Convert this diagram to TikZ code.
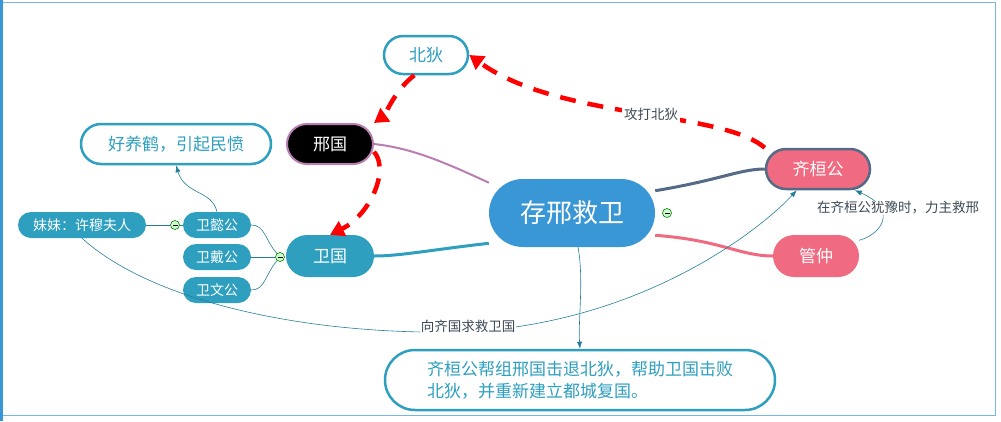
\documentclass[tikz,border=0pt]{standalone}
\usepackage{fontspec}
\setmainfont{Noto Sans CJK SC}
\usetikzlibrary{arrows.meta,positioning}
\definecolor{teal1}{HTML}{2E9FBF}
\definecolor{blue1}{HTML}{3A97D6}
\definecolor{pink1}{HTML}{F06A82}
\definecolor{slate1}{HTML}{556A86}
\definecolor{mauve1}{HTML}{B97FB2}
\definecolor{txt1}{HTML}{3D4A55}
\tikzset{
  topic/.style={rounded corners=13pt,minimum height=26pt,align=center,inner sep=0pt},
  leaf/.style={topic,fill=teal1,text=white,minimum width=68pt,minimum height=26pt,rounded corners=13pt,font=\fontsize{14}{14}\selectfont},
  note/.style={topic,draw=teal1,line width=2.5pt,fill=white,text=teal1,font=\fontsize{17}{17}\selectfont},
  link/.style={teal1!80!black,line width=0.6pt},
  redarrow/.style={red,line width=4.5pt,dash pattern=on 16pt off 12pt,-{Triangle[length=14pt,width=16pt]}},
  lbl/.style={text=txt1,font=\fontsize{13.5}{13.5}\selectfont},
  fold/.style={circle,draw=green!50!black,fill=green!20,inner sep=0pt,minimum size=9pt,line width=0.6pt}
}
\begin{document}
\begin{tikzpicture}[x=1pt,y=-1pt]
  \useasboundingbox (0,0) rectangle (1001,421);
  \draw[blue1!70,line width=1pt] (2,2) rectangle (995,415);
  \fill[blue1] (0,0) rectangle (3,421);
  % main topic and branches
  \node[topic,fill=blue1,text=white,minimum width=166pt,minimum height=68pt,rounded corners=34pt,font=\fontsize{26}{26}\selectfont] (center) at (572,213) {存邢救卫};
  \node[topic,fill=black,draw=mauve1,line width=2pt,text=white,minimum width=86pt,minimum height=40pt,rounded corners=20pt,font=\fontsize{17}{17}\selectfont] (xing) at (330,144) {邢国};
  \node[note,minimum width=84pt,minimum height=38pt,rounded corners=19pt] (beidi) at (426,55) {北狄};
  \node[note,minimum width=190pt,minimum height=40pt,rounded corners=20pt] (crane) at (176,144) {好养鹤，引起民愤};
  \node[topic,fill=pink1,draw=slate1,line width=2.5pt,text=white,minimum width=104pt,minimum height=40pt,rounded corners=20pt,font=\fontsize{17}{17}\selectfont] (qi) at (818,169) {齐桓公};
  \node[topic,fill=pink1,text=white,minimum width=86pt,minimum height=42pt,rounded corners=21pt,font=\fontsize{17}{17}\selectfont] (guan) at (816,256) {管仲};
  \node[topic,fill=teal1,text=white,minimum width=88pt,minimum height=42pt,rounded corners=21pt,font=\fontsize{17}{17}\selectfont] (wei) at (330,256) {卫国};
  \node[leaf] (yi) at (217,225) {卫懿公};
  \node[leaf] (dai) at (217,257) {卫戴公};
  \node[leaf] (wen) at (217,290) {卫文公};
  \node[leaf,minimum width=128pt] (sister) at (82,225) {妹妹：许穆夫人};
  \node[note,minimum width=390pt,minimum height=60pt,rounded corners=30pt,align=left,font=\fontsize{17}{22}\selectfont] (result) at (580,380) {齐桓公帮组邢国击退北狄，帮助卫国击败\\北狄，并重新建立都城复国。};
  % fold marks
  \node[fold] (f1) at (667,213) {\rule{5pt}{0.6pt}};
  \node[fold] (f2) at (280,257) {\rule{5pt}{0.6pt}};
  \node[fold] (f3) at (175,225) {\rule{5pt}{0.6pt}};
  % branch lines
  \draw[mauve1,line width=2pt] (center.160) .. controls (440,160) and (410,148) .. (xing.east);
  \draw[slate1,line width=3pt] (center.15) .. controls (720,180) and (740,169) .. (qi.west);
  \draw[pink1,line width=3pt] (center.-15) .. controls (720,240) and (740,256) .. (guan.west);
  \draw[teal1,line width=3pt] (center.200) .. controls (430,250) and (400,256) .. (wei.east);
  \draw[link] (f2) .. controls (265,240) and (265,225) .. (yi.east);
  \draw[link] (f2) -- (dai.east);
  \draw[link] (f2) .. controls (265,275) and (265,290) .. (wen.east);
  \draw[link] (f3) -- (sister.east);
  \draw[link] (f3) -- (yi.west);
  % relations
  \draw[link,-{Latex[length=7pt]}] (yi.north) .. controls (212,190) and (185,195) .. (crane.south);
  \draw[link,-{Latex[length=7pt]}] (sister.south) .. controls (150,300) and (300,335) .. (460,332) .. controls (640,325) and (760,230) .. (qi.-135);
  \node[lbl,fill=white,inner sep=1pt] (ask) at (468,326) {向齐国求救卫国};
  \draw[link,-{Latex[length=7pt]}] (guan.20) .. controls (880,235) and (900,210) .. (qi.-30);
  \node[lbl,fill=white,inner sep=1pt] (hint) at (898,208) {在齐桓公犹豫时，力主救邢};
  \draw[link,-{Latex[length=7pt]}] (center.-80) .. controls (584,280) and (578,320) .. (result.north);
  \draw[redarrow] (qi.north west) .. controls (720,110) and (560,120) .. node[lbl,fill=white,inner sep=2pt,pos=0.45] {攻打北狄} (beidi.east);
  \draw[redarrow] (beidi.-120) .. controls (395,90) and (385,115) .. (xing.north east);
  \draw[redarrow] (xing.-10) .. controls (390,170) and (370,215) .. (wei.north);
\end{tikzpicture}
\end{document}
